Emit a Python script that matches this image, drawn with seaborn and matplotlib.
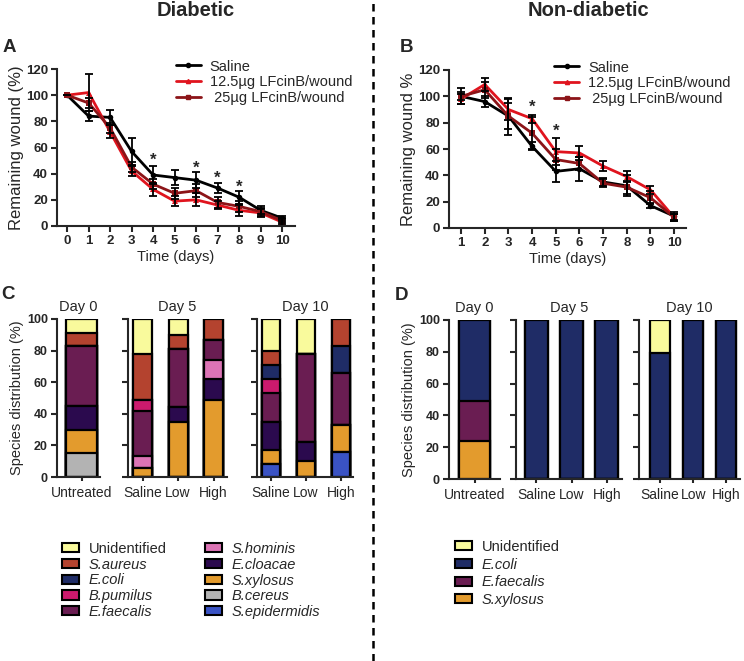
import matplotlib
matplotlib.use("Agg")
import matplotlib.pyplot as plt
from matplotlib.lines import Line2D
from matplotlib.patches import Patch
import pandas as pd
import seaborn as sns

# ---- panel A: wound closure, diabetic ----
days_a = [0, 1, 2, 3, 4, 5, 6, 7, 8, 9, 10]
saline_a = [100, 84, 83, 57, 39, 37, 35, 29, 22, 12, 6]
saline_a_err = [0, 4, 6, 10, 7, 6, 6, 4, 5, 3, 2]
low_a = [100, 102, 72, 42, 28, 19, 20, 16, 12, 10, 3]
low_a_err = [0, 14, 5, 4, 5, 4, 5, 3, 4, 3, 2]
high_a = [100, 94, 75, 45, 32, 25, 27, 18, 15, 11, 4]
high_a_err = [0, 4, 4, 4, 4, 4, 5, 4, 4, 3, 2]
stars_a_x = [4, 6, 7, 8]
stars_a_y = [47, 41, 33, 26]

# ---- panel B: wound closure, non-diabetic ----
days_b = [1, 2, 3, 4, 5, 6, 7, 8, 9, 10]
saline_b = [100, 96, 85, 62, 43, 45, 35, 32, 17, 9]
saline_b_err = [6, 4, 14, 3, 8, 9, 3, 8, 2, 3]
low_b = [98, 109, 90, 83, 58, 57, 47, 39, 29, 8]
low_b_err = [4, 5, 8, 3, 10, 5, 4, 4, 3, 3]
high_b = [100, 105, 85, 72, 52, 49, 34, 31, 23, 8]
high_b_err = [3, 6, 10, 12, 8, 5, 3, 5, 5, 3]
stars_b_x = [4, 5]
stars_b_y = [88, 70]

groups = ["Saline", "12.5\u00b5g LFcinB/wound", " 25\u00b5g LFcinB/wound"]
line_colors = ["#000000", "#e0141e", "#8c1418"]
line_markers = ["o", "^", "s"]

# ---- panels C/D: species distribution (%) ----
day_titles = ["Day 0", "Day 5", "Day 10"]
day_bars = [["Untreated"], ["Saline", "Low", "High"], ["Saline", "Low", "High"]]

# bars: Untreated d0, Saline d5, Low d5, High d5, Saline d10, Low d10, High d10
unidentified_c = [9, 22, 10, 0, 20, 22, 0]
s_aureus_c = [8, 29, 9, 13, 9, 0, 17]
e_coli_c = [0, 0, 0, 0, 9, 0, 17]
b_pumilus_c = [0, 7, 0, 0, 9, 0, 0]
e_faecalis_c = [38, 29, 37, 13, 18, 56, 33]
s_hominis_c = [0, 7, 0, 12, 0, 0, 0]
e_cloacae_c = [15, 0, 9, 13, 18, 12, 0]
s_xylosus_c = [15, 6, 35, 49, 9, 10, 17]
b_cereus_c = [15, 0, 0, 0, 0, 0, 0]
s_epidermidis_c = [0, 0, 0, 0, 8, 0, 16]

unidentified_d = [0, 0, 0, 0, 21, 0, 0]
e_coli_d = [51, 100, 100, 100, 79, 100, 100]
e_faecalis_d = [25, 0, 0, 0, 0, 0, 0]
s_xylosus_d = [24, 0, 0, 0, 0, 0, 0]

species_colors = {
    "Unidentified": "#f9fa9c", "S.aureus": "#b4432f", "E.coli": "#1f2c66",
    "B.pumilus": "#cb1a6d", "E.faecalis": "#6a1d52", "S.hominis": "#dc74b5",
    "E.cloacae": "#2b0a4e", "S.xylosus": "#e39b2d", "B.cereus": "#b3b3b3",
    "S.epidermidis": "#3a53c4",
}
# bottom -> top
stack_order = ["S.epidermidis", "B.cereus", "S.xylosus", "E.cloacae", "S.hominis",
               "E.faecalis", "B.pumilus", "E.coli", "S.aureus", "Unidentified"]

data_c = {"Unidentified": unidentified_c, "S.aureus": s_aureus_c, "E.coli": e_coli_c,
          "B.pumilus": b_pumilus_c, "E.faecalis": e_faecalis_c, "S.hominis": s_hominis_c,
          "E.cloacae": e_cloacae_c, "S.xylosus": s_xylosus_c, "B.cereus": b_cereus_c,
          "S.epidermidis": s_epidermidis_c}
data_d = {"Unidentified": unidentified_d, "E.coli": e_coli_d,
          "E.faecalis": e_faecalis_d, "S.xylosus": s_xylosus_d}

legend_c = ["Unidentified", "S.aureus", "E.coli", "B.pumilus", "E.faecalis",
            "S.hominis", "E.cloacae", "S.xylosus", "B.cereus", "S.epidermidis"]
legend_d = ["Unidentified", "E.coli", "E.faecalis", "S.xylosus"]

sns.set_theme(style="ticks")
plt.rcParams["font.family"] = ["Liberation Sans", "DejaVu Sans"]
plt.rcParams["axes.linewidth"] = 1.5
plt.rcParams["xtick.major.width"] = 1.5
plt.rcParams["ytick.major.width"] = 1.5
plt.rcParams["xtick.major.size"] = 4
plt.rcParams["ytick.major.size"] = 4

W, H = 744, 661
fig = plt.figure(figsize=(W / 100, H / 100), dpi=100)


def box(left, top, right, bottom):
    # pixel box -> figure fraction
    return [left / W, 1 - bottom / H, (right - left) / W, (bottom - top) / H]


def wound_panel(ax, days, series, errs, stars_x, stars_y, xlim, ylabel, leg_x):
    rows = []
    for g, vals in zip(groups, series):
        for d, v in zip(days, vals):
            rows.append({"day": d, "value": v, "group": g})
    df = pd.DataFrame(rows)
    sns.lineplot(data=df, x="day", y="value", hue="group", style="group",
                 palette=line_colors, markers=line_markers, dashes=False,
                 markersize=4, markeredgewidth=0, linewidth=2, legend=False,
                 errorbar=None, ax=ax)
    for vals, err in zip(series, errs):
        ax.errorbar(days, vals, yerr=err, fmt="none", ecolor="black",
                    elinewidth=1.3, capsize=3, capthick=1.3)
    for sx, sy in zip(stars_x, stars_y):
        ax.text(sx, sy, "*", ha="center", va="baseline", fontsize=12,
                fontweight="bold")
    ax.set_xlim(*xlim)
    ax.set_ylim(0, 120)
    ax.set_xticks(days)
    ax.set_yticks(range(0, 121, 20))
    ax.tick_params(labelsize=9.5, pad=2.5)
    for t in ax.get_xticklabels() + ax.get_yticklabels():
        t.set_fontweight("bold")
    ax.set_xlabel("Time (days)", fontsize=10.5, labelpad=2)
    ax.set_ylabel(ylabel, fontsize=12, labelpad=1.5)
    sns.despine(ax=ax)
    handles = [Line2D([], [], color=c, lw=2, marker=m, ms=3)
               for c, m in zip(line_colors, line_markers)]
    ax.legend(handles, groups, loc="upper left", bbox_to_anchor=(leg_x, 1.06),
              frameon=False, fontsize=10.5, handlelength=1.7, handletextpad=0.6,
              labelspacing=0.12, borderpad=0, borderaxespad=0)


ax_a = fig.add_axes(box(57, 69, 295, 226))
wound_panel(ax_a, days_a, [saline_a, low_a, high_a],
            [saline_a_err, low_a_err, high_a_err], stars_a_x, stars_a_y,
            (-0.47, 10.6), "Remaining wound (%)", 0.50)

ax_b = fig.add_axes(box(449, 70, 686, 228))
wound_panel(ax_b, days_b, [saline_b, low_b, high_b],
            [saline_b_err, low_b_err, high_b_err], stars_b_x, stars_b_y,
            (0.49, 10.5), "Remaining wound %", 0.445)


def species_panel(boxes, xlims, widths, data):
    start = 0
    for i, (bx, xl, bw) in enumerate(zip(boxes, xlims, widths)):
        ax = fig.add_axes(bx)
        labels = day_bars[i]
        idx = range(start, start + len(labels))
        start += len(labels)
        present = [s for s in stack_order if s in data]
        # draw cumulative totals from the top of the stack down
        for k in range(len(present) - 1, -1, -1):
            cum = [sum(data[s][j] for s in present[:k + 1]) for j in idx]
            sns.barplot(x=labels, y=cum, order=labels,
                        color=species_colors[present[k]], saturation=1,
                        width=bw, edgecolor="black", linewidth=1.6,
                        errorbar=None, ax=ax)
        ax.set_xlim(*xl)
        ax.set_ylim(0, 100)
        ax.set_yticks(range(0, 101, 20))
        ax.set_title(day_titles[i], fontsize=10.5, pad=6)
        ax.tick_params(axis="x", labelsize=10, length=3)
        ax.tick_params(axis="y", labelsize=9, pad=2.5)
        if i == 0:
            for t in ax.get_yticklabels():
                t.set_fontweight("bold")
            ax.set_ylabel("Species distribution (%)", fontsize=10.5, labelpad=2)
        else:
            ax.set_yticklabels([])
        sns.despine(ax=ax)


species_panel([box(57, 319, 100, 477), box(128, 319, 227, 477), box(257, 319, 353, 477)],
              [(-0.553, 0.417), (-0.41, 2.38), (-0.4, 2.34)],
              [0.7, 0.535, 0.52], data_c)
species_panel([box(449, 320, 500, 479), box(516, 320, 622, 479), box(639, 320, 740, 479)],
              [(-0.575, 0.575), (-0.58, 2.43), (-0.64, 2.42)],
              [0.7, 0.65, 0.62], data_d)


def species_legend(names, x, top, spacing):
    handles = [Patch(facecolor=species_colors[n], edgecolor="black", linewidth=1.5)
               for n in names]
    leg = fig.legend(handles, names, loc="upper left",
                     bbox_to_anchor=(x / W, 1 - top / H), frameon=False,
                     fontsize=10.5, handlelength=1.15, handleheight=0.6,
                     handletextpad=0.7, labelspacing=spacing, borderpad=0,
                     borderaxespad=0)
    for t in leg.get_texts():
        if t.get_text() != "Unidentified":
            t.set_fontstyle("italic")


species_legend(legend_c[:5], 62, 542, 0.12)
species_legend(legend_c[5:], 205, 542, 0.12)
species_legend(legend_d, 455, 540, 0.25)

# headers, panel letters and divider
fig.text(196 / W, 1 - 11 / H, "Diabetic", ha="center", va="center",
         fontsize=14.5, fontweight="bold")
fig.text(588 / W, 1 - 11 / H, "Non-diabetic", ha="center", va="center",
         fontsize=14.5, fontweight="bold")
for letter, px, py in [("A", 9, 48), ("B", 407, 48), ("C", 8, 295), ("D", 402, 296)]:
    fig.text(px / W, 1 - py / H, letter, ha="center", va="center",
             fontsize=13.5, fontweight="bold")
fig.add_artist(Line2D([373 / W, 373 / W], [0, 1], transform=fig.transFigure,
                      color="black", lw=1.8, linestyle=(0, (3, 2.2))))

fig.savefig("out.png", dpi=100)
